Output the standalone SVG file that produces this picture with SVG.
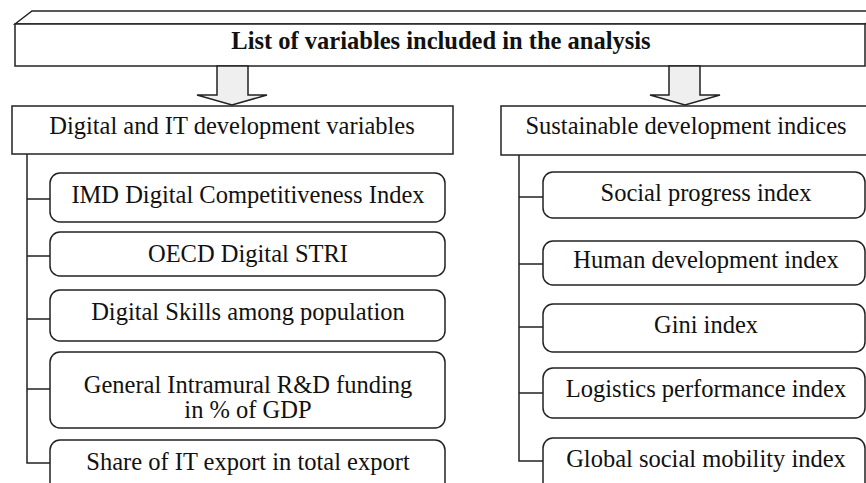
<svg xmlns="http://www.w3.org/2000/svg" width="866" height="483" viewBox="0 0 866 483">
<style>
.box{fill:#fff;stroke:#222;stroke-width:1.5}
.ln{fill:none;stroke:#222;stroke-width:1.5}
.arr{fill:#efefef;stroke:#222;stroke-width:1.5;stroke-linejoin:miter}
.t{font-family:"Liberation Serif","Times New Roman",serif;font-size:24.5px;fill:#111;text-anchor:middle}
.tb{font-weight:bold}
</style>
<rect width="866" height="483" fill="#fff"/>
<g id="title">
<polygon class="box" points="15,24 32,11 885,11 865,24"/>
<rect class="box" x="15" y="24" width="850" height="42"/>
<text class="t tb" x="441" y="49">List of variables included in the analysis</text>
</g>
<g id="connectors">
<polygon class="arr" points="217,66 248,66 248,95 267,95 232,105 197,95 217,95"/>
<polygon class="arr" points="669,66 700,66 700,95 720,95 685,105 650,95 669,95"/>
<path class="ln" d="M27,154 V463 H50 M27,199 H50 M27,256 H50 M27,319 H50 M27,389 H50"/>
<path class="ln" d="M519,155 V461 H543 M519,197 H543 M519,264 H543 M519,327 H543 M519,393 H543"/>
</g>
<g id="digital">
<rect class="box" x="12" y="106" width="441" height="48"/>
<text class="t" x="232" y="134">Digital and IT development variables</text>
</g>
<g id="sustainable">
<rect class="box" x="501" y="106" width="370" height="49"/>
<text class="t" x="686" y="134">Sustainable development indices</text>
</g>
<g id="imd">
<rect class="box" x="50" y="173" width="395" height="49" rx="10"/>
<text class="t" x="248" y="203">IMD Digital Competitiveness Index</text>
</g>
<g id="oecd">
<rect class="box" x="50" y="232" width="395" height="44" rx="10"/>
<text class="t" x="248" y="262">OECD Digital STRI</text>
</g>
<g id="skills">
<rect class="box" x="50" y="290" width="395" height="51" rx="10"/>
<text class="t" x="248" y="320">Digital Skills among population</text>
</g>
<g id="rd">
<rect class="box" x="50" y="352" width="395" height="76" rx="10"/>
<text class="t" x="248" y="393">General Intramural R&amp;D funding</text>
<text class="t" x="248" y="418">in % of GDP</text>
</g>
<g id="itexport">
<rect class="box" x="50" y="440" width="395" height="60" rx="10"/>
<text class="t" x="248" y="470">Share of IT export in total export</text>
</g>
<g id="spi">
<rect class="box" x="543" y="172" width="322" height="46" rx="10"/>
<text class="t" x="706" y="201">Social progress index</text>
</g>
<g id="hdi">
<rect class="box" x="543" y="241" width="322" height="44" rx="10"/>
<text class="t" x="706" y="268">Human development index</text>
</g>
<g id="gini">
<rect class="box" x="543" y="304" width="322" height="48" rx="10"/>
<text class="t" x="706" y="333">Gini index</text>
</g>
<g id="lpi">
<rect class="box" x="543" y="368" width="322" height="50" rx="10"/>
<text class="t" x="706" y="397">Logistics performance index</text>
</g>
<g id="gsmi">
<rect class="box" x="543" y="438" width="322" height="60" rx="10"/>
<text class="t" x="706" y="467">Global social mobility index</text>
</g>
</svg>
